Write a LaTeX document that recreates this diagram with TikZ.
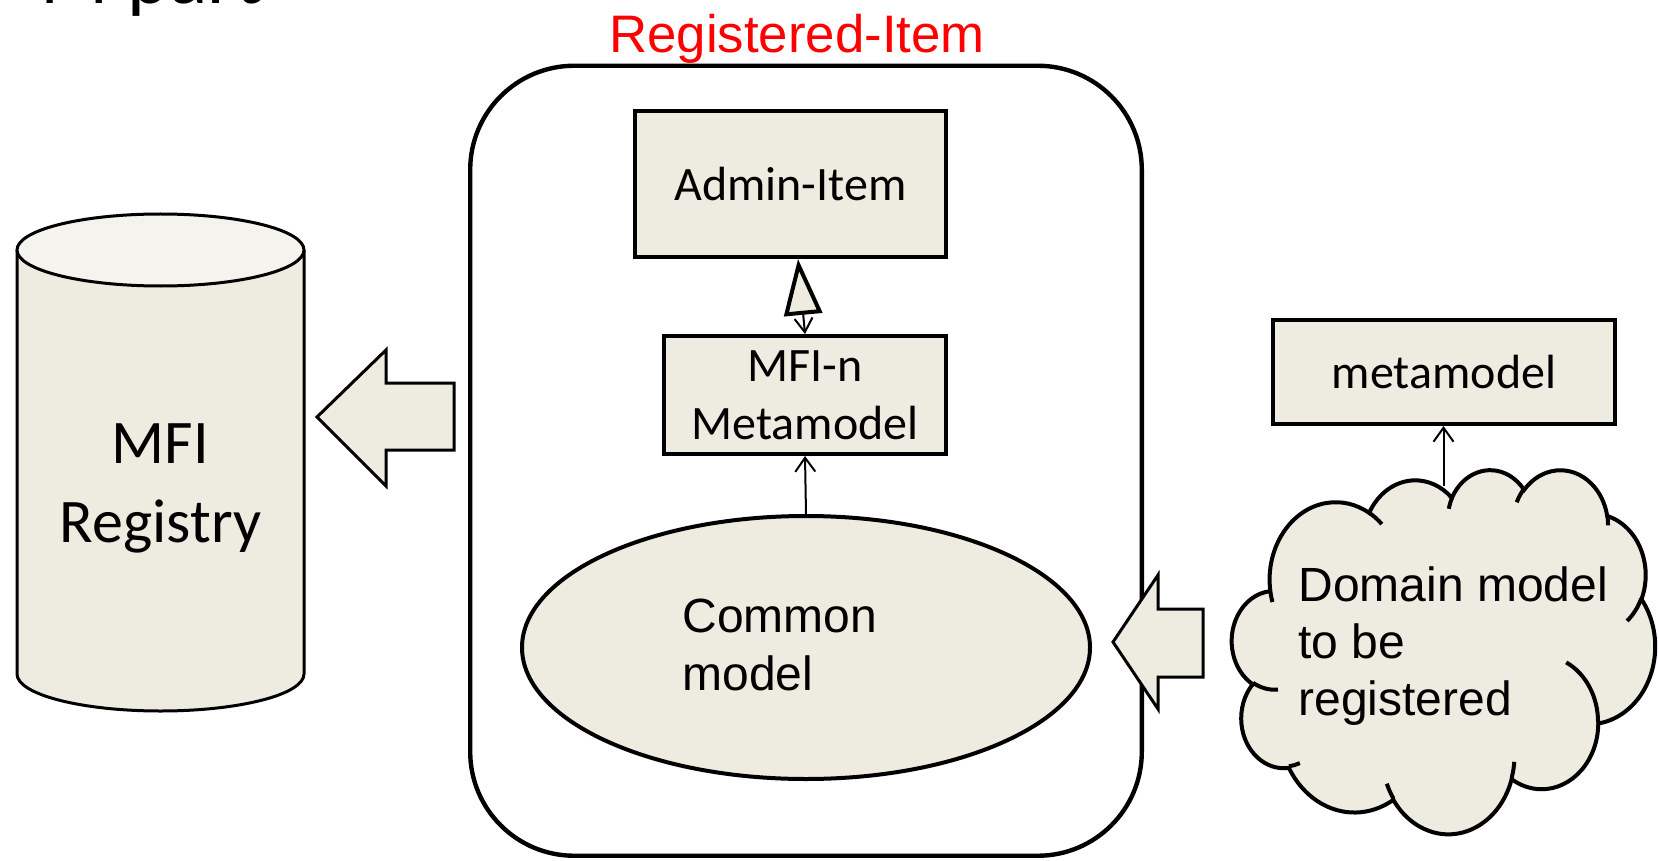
\documentclass[tikz,border=0pt]{standalone}
\usepackage{fontspec}
\setmainfont{Carlito}
\newfontfamily\arialf{Liberation Sans}
\usetikzlibrary{arrows.meta,shapes.geometric,calc}
\definecolor{beige}{HTML}{EEECE1}
\definecolor{beigetop}{HTML}{F4F3EE}
\definecolor{rired}{HTML}{FF0000}
% elliptical arc as in DrawingML arcTo (visual angles)
\newcommand\carc[4]{arc[x radius=#1, y radius=#2, start angle={atan2(#1*sin(#3),#2*cos(#3))}, delta angle={mod(atan2(#1*sin(#3+#4),#2*cos(#3+#4))-atan2(#1*sin(#3),#2*cos(#3))+720,360)}]}
\tikzset{
  boxst/.style={draw, line width=2pt, fill=beige, inner sep=0pt, align=center, font=\fontsize{24}{29}\selectfont},
  framest/.style={draw, line width=2.2pt, rounded corners=52pt, inner sep=0pt},
  blockarrow/.style={draw, line width=1.5pt, fill=beige, line join=miter},
  thinarrow/.style={line width=1pt, -{Straight Barb[length=7pt,width=10pt]}},
  cloudst/.style={draw, line width=2pt, fill=beige},
  creasest/.style={draw, line width=2pt},
  arialtext/.style={inner sep=0pt, align=left, font=\arialf\fontsize{24}{28.7}\selectfont}
}
\begin{document}
\begin{tikzpicture}[x=0.5pt, y=-0.5pt]
\useasboundingbox (0,0) rectangle (1659,861);

% cut-off title at the top edge
\node[anchor=base west, inner sep=0pt, font=\fontsize{40}{46}\selectfont] (ttl) at (40.5,4) {M part};

% Registered-Item frame and label
\node[framest, minimum width=335.8pt, minimum height=395pt] (ri) at (806,460.75) {};
\node[anchor=base, inner sep=0pt, text=rired, font=\arialf\fontsize{26.4}{31}\selectfont] (rilab) at (797,53) {Registered-Item};

% boxes
\node[boxst, minimum width=155.5pt, minimum height=73pt] (admin) at (790.5,184) {Admin-Item};
\node[boxst, minimum width=141pt, minimum height=59pt] (mfin) at (805,395) {MFI-n\\Metamodel};
\node[boxst, minimum width=171pt, minimum height=52pt] (meta) at (1444,372) {metamodel};

% common model ellipse
\node[ellipse, draw, line width=2pt, fill=beige, minimum width=284pt, minimum height=131.5pt, inner sep=0pt] (cm) at (806,647.5) {};
\node[arialtext, anchor=north west] (cmt) at (682,599) {Common\\model};

% generalization Admin-Item <- MFI-n
\coordinate (gt) at ($(admin.south)+(7.5,0)$);
\draw[line width=1pt, {Straight Barb[length=7pt,width=9pt]}-{Triangle[length=28pt,width=19pt,fill=beige,line width=2pt]}] (mfin.north) -- (gt);

% common model -> MFI-n metamodel
\draw[thinarrow] (cm.north) -- (mfin.south);

% MFI registry cylinder
\fill[beige] (17,250) rectangle (304,674);
\fill[beige] (160.5,674) ellipse [x radius=143.5, y radius=37];
\draw[line width=1.5pt] (17,250) -- (17,674)
  .. controls (17,694.4) and (81.3,711) .. (160.5,711)
  .. controls (239.7,711) and (304,694.4) .. (304,674) -- (304,250);
\draw[line width=1.5pt, fill=beigetop] (160.5,250) ellipse [x radius=143.5, y radius=36];
\node[inner sep=0pt, anchor=north, align=center, font=\fontsize{31}{39.5}\selectfont] (reg) at (160.5,423) {MFI\\Registry};

% block arrows
\draw[blockarrow] (454,383) -- (386,383) -- (386,350) -- (317,417) -- (386,486) -- (386,450) -- (454,450) -- cycle;
\draw[blockarrow] (1203,609) -- (1158,609) -- (1158,575) -- (1113,642) -- (1158,709) -- (1158,677) -- (1203,677) -- cycle;

% cloud
\begin{scope}[shift={(1232,469)}, xscale=0.9792, yscale=0.8426]
\draw[cloudst] (39.00,143.70)
  \carc{67.53}{91.90}{-190.48748}{123.78053}
  \carc{53.33}{72.67}{-144.10238}{89.94523}
  \carc{43.65}{59.45}{-145.80792}{99.72302}
  \carc{48.57}{65.95}{-130.98607}{117.24173}
  \carc{53.33}{72.73}{-78.70888}{109.02692}
  \carc{67.75}{92.20}{-46.26725}{130.269}
  \carc{57.85}{78.67}{0.62502}{114.03333}
  \carc{67.52}{92.15}{22.4516}{115.17255}
  \carc{77.20}{105.43}{66.24263}{75.71102}
  \carc{43.60}{59.18}{-274.94208}{146.73557}
  \carc{43.45}{59.45}{-246.8285}{152.51885}
  -- cycle;
\draw[creasest] (46.93,261.77) \carc{43.45}{59.45}{86.742}{26.4295};
\draw[creasest] (69.28,348.99) \carc{43.60}{59.18}{73.61047}{11.44747};
\draw[creasest] (164.78,390.90) \carc{67.52}{92.15}{137.62415}{14.0811};
\draw[creasest] (288.27,347.51) \carc{67.52}{92.15}{6.45327}{15.99835};
\draw[creasest] (341.29,229.54) \carc{57.85}{78.67}{-70.29235}{70.91737};
\draw[creasest] (417.98,153.54) \carc{53.33}{72.73}{30.31803}{27.7515};
\draw[creasest] (383.24,54.26) \carc{48.57}{65.95}{-13.74433}{14.8589};
\draw[creasest] (290.78,39.52) \carc{48.57}{65.95}{-149.18145}{18.19537};
\draw[creasest] (221.41,47.20) \carc{43.65}{59.45}{-163.49427}{17.68635};
\draw[creasest] (140.00,51.92) \carc{67.53}{91.90}{-66.70695}{12.31935};
\draw[creasest] (41.27,157.89) \carc{67.53}{91.90}{157.65435}{11.85817};
\coordinate (ctop) at (216,20);
\end{scope}
\node[arialtext, anchor=north west] (dm) at (1298,566) {Domain model\\to be\\registered};

% cloud -> metamodel
\draw[thinarrow] (ctop) -- (ctop |- meta.south);
\end{tikzpicture}
\end{document}
